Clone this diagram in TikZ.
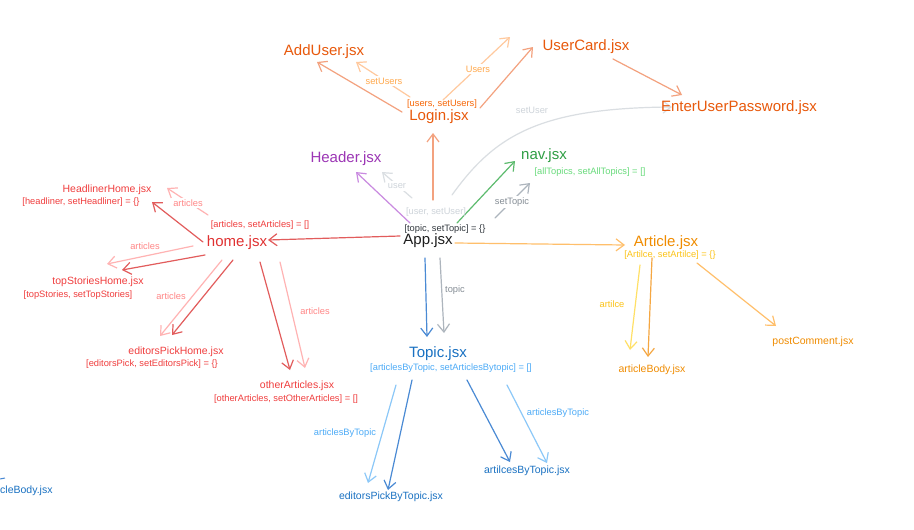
\documentclass[tikz,border=0pt]{standalone}
\usepackage{fontspec}
\setmainfont{Liberation Sans}
\usetikzlibrary{arrows.meta}
% palette
\definecolor{inkOrange}{HTML}{E8590C}
\definecolor{inkOrangeB}{HTML}{F76707}
\definecolor{inkPeach}{HTML}{FFA94D}
\definecolor{lnSalmon}{HTML}{F3A27F}
\definecolor{lnPeach}{HTML}{FFC99E}
\definecolor{inkPurple}{HTML}{9C36B5}
\definecolor{lnPurple}{HTML}{C98AE0}
\definecolor{inkGreen}{HTML}{2F9E44}
\definecolor{lnGreen}{HTML}{5DBB6E}
\definecolor{inkGreenL}{HTML}{69DB7C}
\definecolor{inkGrayL}{HTML}{CED4DA}
\definecolor{lnGrayL}{HTML}{DADEE2}
\definecolor{inkGray}{HTML}{868E96}
\definecolor{lnGray}{HTML}{ADB5BD}
\definecolor{inkDark}{HTML}{1E1E1E}
\definecolor{inkDarkB}{HTML}{343A40}
\definecolor{inkRed}{HTML}{E03131}
\definecolor{inkRedB}{HTML}{F03E3E}
\definecolor{inkRedL}{HTML}{FF8787}
\definecolor{lnRed}{HTML}{E25C5C}
\definecolor{lnRedL}{HTML}{FFB3B3}
\definecolor{inkBlue}{HTML}{1971C2}
\definecolor{inkBlueL}{HTML}{4DABF7}
\definecolor{lnBlue}{HTML}{4A8AD4}
\definecolor{lnBlueL}{HTML}{8CC8F8}
\definecolor{inkAmber}{HTML}{F08C00}
\definecolor{inkYellow}{HTML}{FCC419}
\definecolor{lnAmber}{HTML}{F5A742}
\definecolor{lnAmberL}{HTML}{FFBF6B}
\definecolor{lnYellow}{HTML}{FFE066}
\begin{document}
\begin{tikzpicture}[x=1pt,y=-1pt,
  big/.style={inner sep=1pt, font=\fontsize{15}{18}\selectfont},
  mid/.style={inner sep=1pt, font=\fontsize{10.5}{12}\selectfont},
  lbl/.style={inner sep=1pt, font=\fontsize{9.3}{11}\selectfont},
  onlink/.style={lbl, fill=white, inner sep=2pt, text=#1},
  link/.style={line width=1.2pt, line cap=round, line join=round,
    -{Straight Barb[length=8pt,width=12pt]}}
]
\useasboundingbox (0,0) rectangle (914,530);
\fill[white] (0,0) rectangle (914,530);

% ---------- connector end points ----------
% Login
\coordinate (lgA) at (402,112); \coordinate (adA) at (317,62);
\coordinate (lgB) at (410,97);  \coordinate (adB) at (356,62);
\coordinate (lgC) at (443,100); \coordinate (ucB) at (510,37);
\coordinate (lgD) at (480,108); \coordinate (ucA) at (533,47);
\coordinate (ucOut) at (613,59); \coordinate (pwIn) at (682,95);
% App
\coordinate (apUp) at (433,200);  \coordinate (lgIn) at (433,133);
\coordinate (apSU) at (452,195);  \coordinate (pwIn2) at (672,107);
\coordinate (apHd) at (410,223);  \coordinate (hdIn) at (356,172);
\coordinate (apUs) at (412,198);  \coordinate (hdIn2) at (382,172);
\coordinate (apNv) at (457,223);  \coordinate (nvIn) at (515,161);
\coordinate (apST) at (495,218);  \coordinate (nvIn2) at (530,183);
\coordinate (apHm) at (400,236);  \coordinate (hmIn) at (268,240);
\coordinate (apAr) at (455,243);  \coordinate (arIn) at (625,245);
\coordinate (apTp) at (425,258);  \coordinate (tpIn) at (427,337);
\coordinate (apTp2) at (440,258); \coordinate (tpIn2) at (444,333);
% home
\coordinate (hmH) at (203,242);  \coordinate (hlIn) at (152,202);
\coordinate (hmH2) at (208,215); \coordinate (hlIn2) at (167,188);
\coordinate (hmT) at (205,255);  \coordinate (tsIn) at (122,270);
\coordinate (hmT2) at (193,246); \coordinate (tsIn2) at (107,264);
\coordinate (hmE) at (233,260);  \coordinate (epIn) at (172,335);
\coordinate (hmE2) at (222,260); \coordinate (epIn2) at (160,336);
\coordinate (hmO) at (260,262);  \coordinate (oaIn) at (290,370);
\coordinate (hmO2) at (280,262); \coordinate (oaIn2) at (305,368);
% Topic
\coordinate (tpE) at (412,380);  \coordinate (ebIn) at (388,490);
\coordinate (tpE2) at (396,385); \coordinate (ebIn2) at (368,483);
\coordinate (tpA) at (467,380);  \coordinate (abIn) at (510,462);
\coordinate (tpA2) at (507,385); \coordinate (abIn2) at (547,463);
% Article
\coordinate (arB2) at (640,265); \coordinate (bdIn2) at (630,350);
\coordinate (arB) at (652,258);  \coordinate (bdIn) at (648,357);
\coordinate (arP) at (697,263);  \coordinate (pcIn) at (776,326);

% ---------- connectors ----------
\draw[link, lnSalmon] (lgA) -- (adA);
\draw[link, lnPeach]  (lgB) -- (adB);
\draw[link, lnPeach]  (lgC) -- (ucB);
\draw[link, lnSalmon] (lgD) -- (ucA);
\draw[link, lnSalmon] (ucOut) -- (pwIn);

\draw[link, lnSalmon] (apUp) -- (lgIn);
\draw[link, lnGrayL]  (apSU) .. controls (495,135) and (540,108) .. (pwIn2);
\draw[link, lnPurple] (apHd) -- (hdIn);
\draw[link, lnGrayL]  (apUs) -- (hdIn2);
\draw[link, lnGreen]  (apNv) -- (nvIn);
\draw[link, lnGray]   (apST) -- (nvIn2);
\draw[link, lnRed]    (apHm) -- (hmIn);
\draw[link, lnAmberL] (apAr) -- (arIn);
\draw[link, lnBlue]   (apTp) -- (tpIn);
\draw[link, lnGray]   (apTp2) -- (tpIn2);

\draw[link, lnRed]  (hmH) -- (hlIn);
\draw[link, lnRedL] (hmH2) -- (hlIn2);
\draw[link, lnRed]  (hmT) -- (tsIn);
\draw[link, lnRedL] (hmT2) -- (tsIn2);
\draw[link, lnRed]  (hmE) -- (epIn);
\draw[link, lnRedL] (hmE2) -- (epIn2);
\draw[link, lnRed]  (hmO) -- (oaIn);
\draw[link, lnRedL] (hmO2) -- (oaIn2);

\draw[link, lnBlue]  (tpE) -- (ebIn);
\draw[link, lnBlueL] (tpE2) -- (ebIn2);
\draw[link, lnBlue]  (tpA) -- (abIn);
\draw[link, lnBlueL] (tpA2) -- (abIn2);

\draw[link, lnYellow] (arB2) -- (bdIn2);
\draw[link, lnAmber]  (arB) -- (bdIn);
\draw[link, lnAmberL] (arP) -- (pcIn);

% ---------- components ----------
\node[big, inkOrange] (adduser) at (324,52) {AddUser.jsx};
\node[big, inkOrange] (usercard) at (586,47) {UserCard.jsx};
\node[big, inkOrange] (login) at (439,117) {Login.jsx};
\node[lbl, inkOrangeB] (loginState) at (442,104) {[users, setUsers]};
\node[big, inkOrange] (enterpw) at (739,108) {EnterUserPassword.jsx};
\node[big, inkPurple] (header) at (346,159) {Header.jsx};
\node[big, inkGreen] (nav) at (544,156) {nav.jsx};
\node[lbl, inkGreenL] (navState) at (590,172) {[allTopics, setAllTopics] = []};
\node[lbl, inkGrayL] (appUser) at (436,212) {[user, setUser]};
\node[lbl, inkDarkB] (appState) at (445,229) {[topic, setTopic] = \{\}};
\node[big, inkDark] (app) at (428,241) {App.jsx};

\node[big, inkRed] (home) at (237,243) {home.jsx};
\node[lbl, inkRedB] (homeState) at (260,225) {[articles, setArticles] = []};
\node[mid, inkRedB] (headliner) at (107,190) {HeadlinerHome.jsx};
\node[lbl, inkRedB] (headlinerState) at (81,202) {[headliner, setHeadliner] = \{\}};
\node[mid, inkRedB] (topstories) at (98,282) {topStoriesHome.jsx};
\node[lbl, inkRedB] (topstoriesState) at (78,295) {[topStories, setTopStories]};
\node[mid, inkRedB] (editors) at (176,352) {editorsPickHome.jsx};
\node[lbl, inkRedB] (editorsState) at (152,364) {[editorsPick, setEditorsPick] = \{\}};
\node[mid, inkRedB] (other) at (297,386) {otherArticles.jsx};
\node[lbl, inkRedB] (otherState) at (286,399) {[otherArticles, setOtherArticles] = []};

\node[big, inkBlue] (topic) at (438,354) {Topic.jsx};
\node[lbl, inkBlueL] (topicState) at (451,368) {[articlesByTopic, setArticlesBytopic] = []};
\node[mid, inkBlue] (editorsbt) at (391,497) {editorsPickByTopic.jsx};
\node[mid, inkBlue] (artilcesbt) at (527,471) {artilcesByTopic.jsx};

\node[big, inkAmber] (article) at (666,243) {Article.jsx};
\node[lbl, inkYellow] (articleState) at (670,255) {[Artilce, setArtilce] = \{\}};
\node[mid, inkAmber] (postcomment) at (813,342) {postComment.jsx};
\node[mid, inkAmber] (articlebody) at (652,370) {articleBody.jsx};

% fragment at the left edge
\node[mid, inkBlue, anchor=west, inner sep=0pt] (strayBody) at (0,491) {cleBody.jsx};
\draw[lnBlue, line width=1pt] (0,479) -- (5,478);

% ---------- connector labels ----------
\node[onlink=inkPeach] (lblSetUsers) at (384,81) {setUsers};
\node[onlink=inkPeach] (lblUsers) at (478,69) {Users};
\node[lbl, inkGrayL] (lblSetUser) at (532,110) {setUser};
\node[onlink=inkGrayL] (lblUser) at (397,186) {user};
\node[onlink=inkGray] (lblSetTopic) at (512,202) {setTopic};
\node[lbl, inkGray] (lblTopic) at (455,290) {topic};
\node[onlink=inkRedL] (lblArtH) at (188,203) {articles};
\node[lbl, inkRedL] (lblArtT) at (145,246) {articles};
\node[lbl, inkRedL] (lblArtE) at (171,296) {articles};
\node[lbl, inkRedL] (lblArtO) at (315,311) {articles};
\node[lbl, inkBlueL] (lblABT1) at (345,433) {articlesByTopic};
\node[lbl, inkBlueL] (lblABT2) at (558,413) {articlesByTopic};
\node[lbl, inkYellow] (lblArtilce) at (612,304) {artilce};
\end{tikzpicture}
\end{document}
